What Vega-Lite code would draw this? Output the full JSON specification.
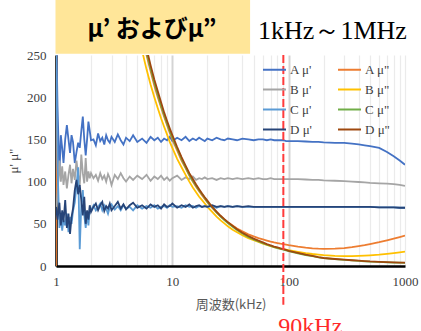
{
  "$schema": "https://vega.github.io/schema/vega-lite/v6.json",
  "autosize": {"type": "none"},
  "width": 349,
  "height": 211,
  "padding": {"left": 56, "top": 55, "right": 16, "bottom": 65},
  "background": "white",
  "config": {"view": {"stroke": null}},
  "layer": [
    {
      "data": {"values": [{}]},
      "mark": {"type": "rect", "color": "#FFE699", "clip": false},
      "encoding": {
        "x": {"datum": 0.99, "type": "quantitative", "scale": {"type": "log", "domain": [1, 1000], "nice": false}},
        "x2": {"datum": 46.6},
        "y": {"datum": 251.5, "type": "quantitative", "scale": {"domain": [0, 250], "nice": false}},
        "y2": {"datum": 320}
      }
    },
    {
      "data": {"values": [
        {"f":1.00,"A1":300,"A2":0,"B1":60,"B2":1400,"C1":280,"C2":1520,"D1":70,"D2":1550},
        {"f":1.03,"A1":190,"A2":1456,"B1":85,"B2":1359,"C1":120,"C2":1476,"D1":55,"D2":1505},
        {"f":1.07,"A1":108,"A2":1402,"B1":125,"B2":1308,"C1":45,"C2":1421,"D1":75,"D2":1449},
        {"f":1.10,"A1":155,"A2":1364,"B1":100,"B2":1273,"C1":60,"C2":1382,"D1":48,"D2":1409},
        {"f":1.13,"A1":140,"A2":1327,"B1":118,"B2":1239,"C1":42,"C2":1345,"D1":66,"D2":1372},
        {"f":1.16,"A1":122,"A2":1293,"B1":96,"B2":1207,"C1":55,"C2":1310,"D1":52,"D2":1336},
        {"f":1.20,"A1":150,"A2":1250,"B1":112,"B2":1167,"C1":48,"C2":1267,"D1":78,"D2":1292},
        {"f":1.24,"A1":167,"A2":1210,"B1":92,"B2":1129,"C1":62,"C2":1226,"D1":45,"D2":1250},
        {"f":1.28,"A1":150,"A2":1172,"B1":108,"B2":1094,"C1":40,"C2":1188,"D1":62,"D2":1211},
        {"f":1.32,"A1":134,"A2":1136,"B1":120,"B2":1061,"C1":58,"C2":1152,"D1":38,"D2":1174},
        {"f":1.36,"A1":155,"A2":1103,"B1":98,"B2":1029,"C1":50,"C2":1118,"D1":58,"D2":1140},
        {"f":1.40,"A1":147,"A2":1071,"B1":115,"B2":1000,"C1":65,"C2":1086,"D1":68,"D2":1107},
        {"f":1.45,"A1":122,"A2":1034,"B1":102,"B2":966,"C1":75,"C2":1048,"D1":90,"D2":1069},
        {"f":1.50,"A1":135,"A2":1000,"B1":125,"B2":933,"C1":95,"C2":1013,"D1":102,"D2":1033},
        {"f":1.55,"A1":146,"A2":968,"B1":108,"B2":903,"C1":117,"C2":981,"D1":85,"D2":1000},
        {"f":1.60,"A1":140,"A2":938,"B1":95,"B2":875,"C1":20,"C2":950,"D1":96,"D2":969},
        {"f":1.65,"A1":160,"A2":909,"B1":132,"B2":848,"C1":72,"C2":921,"D1":78,"D2":939},
        {"f":1.70,"A1":177,"A2":882,"B1":110,"B2":824,"C1":90,"C2":894,"D1":60,"D2":912},
        {"f":1.75,"A1":150,"A2":857,"B1":98,"B2":800,"C1":60,"C2":869,"D1":82,"D2":886},
        {"f":1.80,"A1":131,"A2":833,"B1":128,"B2":778,"C1":45,"C2":844,"D1":50,"D2":861},
        {"f":1.85,"A1":150,"A2":811,"B1":100,"B2":757,"C1":62,"C2":822,"D1":66,"D2":838},
        {"f":1.90,"A1":171,"A2":789,"B1":112,"B2":737,"C1":48,"C2":800,"D1":55,"D2":816},
        {"f":1.95,"A1":160,"A2":769,"B1":104,"B2":718,"C1":68,"C2":779,"D1":72,"D2":795},
        {"f":2.0,"A1":149,"A2":750,"B1":110,"B2":700,"C1":66,"C2":760,"D1":64,"D2":775},
        {"f":2.1,"A1":150,"A2":714,"B1":104,"B2":667,"C1":72,"C2":724,"D1":70,"D2":738},
        {"f":2.2,"A1":143,"A2":682,"B1":108,"B2":636,"C1":66,"C2":691,"D1":74,"D2":705},
        {"f":2.3,"A1":157,"A2":652,"B1":101,"B2":609,"C1":70,"C2":661,"D1":66,"D2":674},
        {"f":2.4,"A1":148,"A2":625,"B1":110,"B2":583,"C1":74,"C2":633,"D1":72,"D2":646},
        {"f":2.5,"A1":152,"A2":600,"B1":103,"B2":560,"C1":66,"C2":608,"D1":76,"D2":620},
        {"f":2.6,"A1":144,"A2":577,"B1":107,"B2":538,"C1":72,"C2":585,"D1":65,"D2":596},
        {"f":2.7,"A1":155,"A2":556,"B1":100,"B2":519,"C1":68,"C2":563,"D1":71,"D2":574},
        {"f":2.8,"A1":149,"A2":536,"B1":109,"B2":500,"C1":62,"C2":543,"D1":68,"D2":554},
        {"f":2.9,"A1":146,"A2":517,"B1":104,"B2":483,"C1":70,"C2":524,"D1":74,"D2":534},
        {"f":3.0,"A1":153,"A2":500,"B1":96,"B2":467,"C1":73,"C2":507,"D1":66,"D2":517},
        {"f":3.2,"A1":147,"A2":469,"B1":108,"B2":438,"C1":67,"C2":475,"D1":71,"D2":484},
        {"f":3.4,"A1":156,"A2":441,"B1":103,"B2":412,"C1":71,"C2":447,"D1":76,"D2":456},
        {"f":3.6,"A1":149,"A2":417,"B1":110,"B2":389,"C1":66,"C2":422,"D1":68,"D2":431},
        {"f":3.8,"A1":144,"A2":395,"B1":104,"B2":368,"C1":72,"C2":400,"D1":73,"D2":408},
        {"f":4.0,"A1":152,"A2":375,"B1":100,"B2":350,"C1":68,"C2":380,"D1":67,"D2":388},
        {"f":4.3,"A1":148,"A2":349,"B1":106,"B2":326,"C1":70,"C2":353,"D1":72,"D2":360},
        {"f":4.6,"A1":155,"A2":326,"B1":102,"B2":304,"C1":66,"C2":330,"D1":75,"D2":337},
        {"f":5.0,"A1":147,"A2":300,"B1":107,"B2":280,"C1":72,"C2":304,"D1":69,"D2":310},
        {"f":5.5,"A1":151,"A2":273,"B1":103,"B2":255,"C1":68,"C2":276,"D1":72,"D2":282},
        {"f":6.0,"A1":146,"A2":250,"B1":108,"B2":233,"C1":71,"C2":253,"D1":68,"D2":258},
        {"f":6.5,"A1":153,"A2":231,"B1":101,"B2":215,"C1":69,"C2":234,"D1":73,"D2":238},
        {"f":7.0,"A1":149,"A2":214,"B1":106,"B2":200,"C1":72,"C2":217,"D1":70,"D2":221},
        {"f":7.5,"A1":152,"A2":200,"B1":103,"B2":187,"C1":68,"C2":203,"D1":72,"D2":207},
        {"f":8.0,"A1":147,"A2":188,"B1":107,"B2":175,"C1":70,"C2":190,"D1":68,"D2":194},
        {"f":8.5,"A1":151,"A2":177,"B1":102,"B2":165,"C1":71,"C2":179,"D1":73,"D2":182},
        {"f":9.0,"A1":149,"A2":167,"B1":105,"B2":156,"C1":69,"C2":169,"D1":70,"D2":172},
        {"f":9.5,"A1":153,"A2":158,"B1":101,"B2":147,"C1":72,"C2":160,"D1":71,"D2":163},
        {"f":10,"A1":148,"A2":150,"B1":104,"B2":140,"C1":70,"C2":152,"D1":74,"D2":155},
        {"f":11,"A1":152,"A2":137,"B1":107,"B2":127,"C1":71,"C2":139,"D1":69,"D2":141},
        {"f":12,"A1":149,"A2":125,"B1":102,"B2":117,"C1":69,"C2":127,"D1":72,"D2":129},
        {"f":13,"A1":153,"A2":116,"B1":105,"B2":108,"C1":72,"C2":117,"D1":70,"D2":119},
        {"f":14,"A1":148,"A2":107,"B1":103,"B2":100,"C1":70,"C2":108,"D1":73,"D2":110},
        {"f":15,"A1":151,"A2":100,"B1":106,"B2":93,"C1":71,"C2":101,"D1":69,"D2":103},
        {"f":16,"A1":149,"A2":94,"B1":102,"B2":87.5,"C1":69,"C2":95,"D1":71,"D2":96.5},
        {"f":17,"A1":152,"A2":88.5,"B1":104,"B2":82,"C1":71,"C2":89.5,"D1":72,"D2":91},
        {"f":18,"A1":150,"A2":84,"B1":103,"B2":78,"C1":70,"C2":85,"D1":70,"D2":86},
        {"f":19,"A1":148,"A2":79.5,"B1":105,"B2":74,"C1":71,"C2":80.5,"D1":71,"D2":81.5},
        {"f":20,"A1":151,"A2":75.5,"B1":103,"B2":70,"C1":70,"C2":76,"D1":70,"D2":77.5},
        {"f":22,"A1":149,"A2":69,"B1":104,"B2":64,"C1":71,"C2":69.5,"D1":72,"D2":70},
        {"f":24,"A1":152,"A2":63.5,"B1":102,"B2":58.5,"C1":69,"C2":63.5,"D1":70,"D2":64.5},
        {"f":26,"A1":150,"A2":59,"B1":104,"B2":54,"C1":71,"C2":58.5,"D1":71,"D2":59.5},
        {"f":28,"A1":149,"A2":55,"B1":103,"B2":50.5,"C1":70,"C2":54.5,"D1":70,"D2":55.5},
        {"f":30,"A1":151,"A2":52,"B1":104,"B2":47,"C1":71,"C2":51,"D1":71,"D2":52},
        {"f":33,"A1":150,"A2":48,"B1":103,"B2":43,"C1":70,"C2":46.5,"D1":70,"D2":47.5},
        {"f":36,"A1":149,"A2":44.5,"B1":104,"B2":40,"C1":71,"C2":42.5,"D1":71,"D2":43.5},
        {"f":40,"A1":151,"A2":41,"B1":103,"B2":36.5,"C1":70,"C2":38.5,"D1":70,"D2":39.5},
        {"f":45,"A1":150,"A2":37.5,"B1":104,"B2":33,"C1":70,"C2":34.5,"D1":71,"D2":35.5},
        {"f":50,"A1":149,"A2":35,"B1":103,"B2":30.5,"C1":70,"C2":31.5,"D1":70,"D2":32.5},
        {"f":55,"A1":150,"A2":33,"B1":104,"B2":28.5,"C1":70,"C2":29,"D1":70,"D2":30},
        {"f":60,"A1":150,"A2":31.5,"B1":103,"B2":26.5,"C1":70,"C2":27,"D1":70,"D2":28},
        {"f":65,"A1":149,"A2":30.2,"B1":103,"B2":25,"C1":70,"C2":25.2,"D1":70,"D2":26},
        {"f":70,"A1":150,"A2":29,"B1":104,"B2":23.5,"C1":70,"C2":23.7,"D1":70,"D2":24.5},
        {"f":75,"A1":149,"A2":28,"B1":103,"B2":22.5,"C1":70,"C2":22.3,"D1":70,"D2":23},
        {"f":80,"A1":149,"A2":27.2,"B1":103,"B2":21.5,"C1":70,"C2":21.3,"D1":70,"D2":22},
        {"f":85,"A1":149,"A2":26.5,"B1":103,"B2":20.5,"C1":70,"C2":20.3,"D1":70,"D2":21},
        {"f":90,"A1":149,"A2":26,"B1":103,"B2":20,"C1":70,"C2":19.4,"D1":70,"D2":20},
        {"f":95,"A1":148,"A2":25.4,"B1":103,"B2":19.3,"C1":70,"C2":18.5,"D1":70,"D2":19},
        {"f":100,"A1":148,"A2":24.8,"B1":103,"B2":18.7,"C1":70,"C2":17.5,"D1":70,"D2":18},
        {"f":120,"A1":148,"A2":23,"B1":103,"B2":16.8,"C1":70,"C2":15,"D1":70,"D2":15.5},
        {"f":140,"A1":147.5,"A2":21.8,"B1":102.5,"B2":15.3,"C1":70,"C2":13,"D1":70,"D2":13.5},
        {"f":160,"A1":147,"A2":21,"B1":102,"B2":14.2,"C1":70,"C2":11.6,"D1":70,"D2":12},
        {"f":180,"A1":147,"A2":20.5,"B1":102,"B2":13.4,"C1":70,"C2":10.2,"D1":70,"D2":10.5},
        {"f":200,"A1":146.5,"A2":20.3,"B1":101.5,"B2":12.8,"C1":70,"C2":9.3,"D1":70,"D2":9.5},
        {"f":250,"A1":146,"A2":20.5,"B1":101,"B2":12.1,"C1":70,"C2":8.1,"D1":70,"D2":8.3},
        {"f":300,"A1":146,"A2":21.3,"B1":100.5,"B2":11.8,"C1":70,"C2":7.3,"D1":70,"D2":7.5},
        {"f":350,"A1":145,"A2":22.3,"B1":100,"B2":11.8,"C1":70,"C2":6.6,"D1":70,"D2":6.8},
        {"f":400,"A1":144,"A2":23.5,"B1":99.5,"B2":12,"C1":70,"C2":6.1,"D1":70,"D2":6.3},
        {"f":450,"A1":143,"A2":24.7,"B1":99,"B2":12.3,"C1":70,"C2":5.6,"D1":70,"D2":5.8},
        {"f":500,"A1":142,"A2":26,"B1":98.5,"B2":12.7,"C1":70,"C2":5.2,"D1":70,"D2":5.4},
        {"f":600,"A1":140,"A2":28.3,"B1":98,"B2":13.5,"C1":69.5,"C2":4.8,"D1":69.5,"D2":5},
        {"f":700,"A1":135,"A2":30.5,"B1":97.5,"B2":14.4,"C1":69.5,"C2":4.4,"D1":69.5,"D2":4.6},
        {"f":800,"A1":130,"A2":32.5,"B1":97,"B2":15.3,"C1":69.5,"C2":4.1,"D1":69.5,"D2":4.3},
        {"f":900,"A1":125,"A2":34.3,"B1":96,"B2":16.2,"C1":69,"C2":3.9,"D1":69,"D2":4.1},
        {"f":1000,"A1":120,"A2":36,"B1":95,"B2":17,"C1":69,"C2":3.8,"D1":69,"D2":4}
      ]},
      "transform": [
        {"fold": ["A1", "A2", "B1", "B2", "C1", "C2", "D1", "D2"], "as": ["series", "value"]}
      ],
      "mark": {"type": "line", "strokeWidth": 1.8, "clip": true},
      "encoding": {
        "x": {
          "field": "f", "type": "quantitative",
          "scale": {"type": "log", "domain": [1, 1000], "nice": false},
          "axis": {
            "title": "周波数(kHz)",
            "titleFont": "Noto Sans CJK JP",
            "titleFontSize": 13,
            "titleFontWeight": "normal",
            "titleColor": "#595959",
            "titlePadding": 10,
            "values": [1,2,3,4,5,6,7,8,9,10,20,30,40,50,60,70,80,90,100,200,300,400,500,600,700,800,900,1000],
            "format": "d",
            "labelExpr": "datum.value == 1 || datum.value == 10 || datum.value == 100 || datum.value == 1000 ? datum.label : ''",
            "labelFlush": false,
            "labelOverlap": false,
            "labelFont": "Liberation Serif",
            "labelFontSize": 13,
            "labelColor": "#404040",
            "labelPadding": 9,
            "ticks": false,
            "domainColor": "#000000",
            "domainWidth": 2.5,
            "grid": true,
            "gridColor": {"condition": {"test": "datum.value == 10 || datum.value == 100", "value": "#D4D4D4"}, "value": "#EBEBEB"},
            "gridWidth": {"condition": {"test": "datum.value == 10 || datum.value == 100", "value": 2}, "value": 1.2}
          }
        },
        "y": {
          "field": "value", "type": "quantitative",
          "scale": {"domain": [0, 250], "nice": false},
          "axis": {
            "title": "μ' μ\"",
            "titleFont": "Liberation Serif",
            "titleFontSize": 13,
            "titleFontWeight": "normal",
            "titleColor": "#404040",
            "titlePadding": 6,
            "values": [0, 50, 100, 150, 200, 250],
            "labelFont": "Liberation Serif",
            "labelFontSize": 13,
            "labelColor": "#404040",
            "labelPadding": 10,
            "ticks": false,
            "domainColor": "#000000",
            "domainWidth": 2.5,
            "gridColor": "#E0E0E0",
            "gridWidth": 1.5
          }
        },
        "color": {
          "field": "series", "type": "nominal",
          "scale": {
            "domain": ["A1", "B1", "C1", "D1", "A2", "B2", "C2", "D2"],
            "range": ["#4472C4", "#A5A5A5", "#5B9BD5", "#264478", "#ED7D31", "#FFC000", "#70AD47", "#9E480E"]
          },
          "legend": {
            "title": null,
            "orient": "none",
            "legendX": 206,
            "legendY": 2,
            "columns": 2,
            "columnPadding": 22,
            "rowPadding": 0,
            "padding": 0,
            "symbolType": "stroke",
            "symbolSize": 529,
            "symbolStrokeWidth": 2,
            "labelOffset": 3,
            "labelFont": "Liberation Serif",
            "labelFontSize": 13,
            "labelColor": "#404040",
            "labelExpr": "substring(datum.label,0,1) + ' μ' + (substring(datum.label,1,2) == '1' ? \"'\" : '\"')"
          }
        }
      }
    },
    {
      "data": {"values": [{}]},
      "mark": {"type": "rule", "color": "#FF3B3B", "strokeWidth": 2, "strokeDash": [8, 3], "clip": false},
      "encoding": {
        "x": {"datum": 90, "type": "quantitative"},
        "y": {"datum": 250, "type": "quantitative"},
        "y2": {"datum": -46}
      }
    },
    {
      "data": {"values": [{}]},
      "mark": {"type": "text", "text": "μ’ およびμ”", "font": "Noto Sans CJK JP", "fontWeight": "bold", "fontSize": 24, "color": "#000000", "align": "center", "baseline": "middle", "clip": false},
      "encoding": {
        "x": {"datum": 6.69, "type": "quantitative"},
        "y": {"datum": 279.6, "type": "quantitative"}
      }
    },
    {
      "data": {"values": [{}]},
      "mark": {"type": "text", "text": "1kHz～1MHz", "font": "Liberation Serif", "fontSize": 26, "color": "#000000", "align": "left", "baseline": "middle", "clip": false},
      "encoding": {
        "x": {"datum": 54.6, "type": "quantitative"},
        "y": {"datum": 279, "type": "quantitative"}
      }
    },
    {
      "data": {"values": [{}]},
      "mark": {"type": "text", "text": "90kHz", "font": "Liberation Serif", "fontSize": 24, "color": "#FF2A2A", "align": "left", "baseline": "alphabetic", "dx": -5, "clip": false},
      "encoding": {
        "x": {"datum": 90, "type": "quantitative"},
        "y": {"datum": -80, "type": "quantitative"}
      }
    }
  ]
}
